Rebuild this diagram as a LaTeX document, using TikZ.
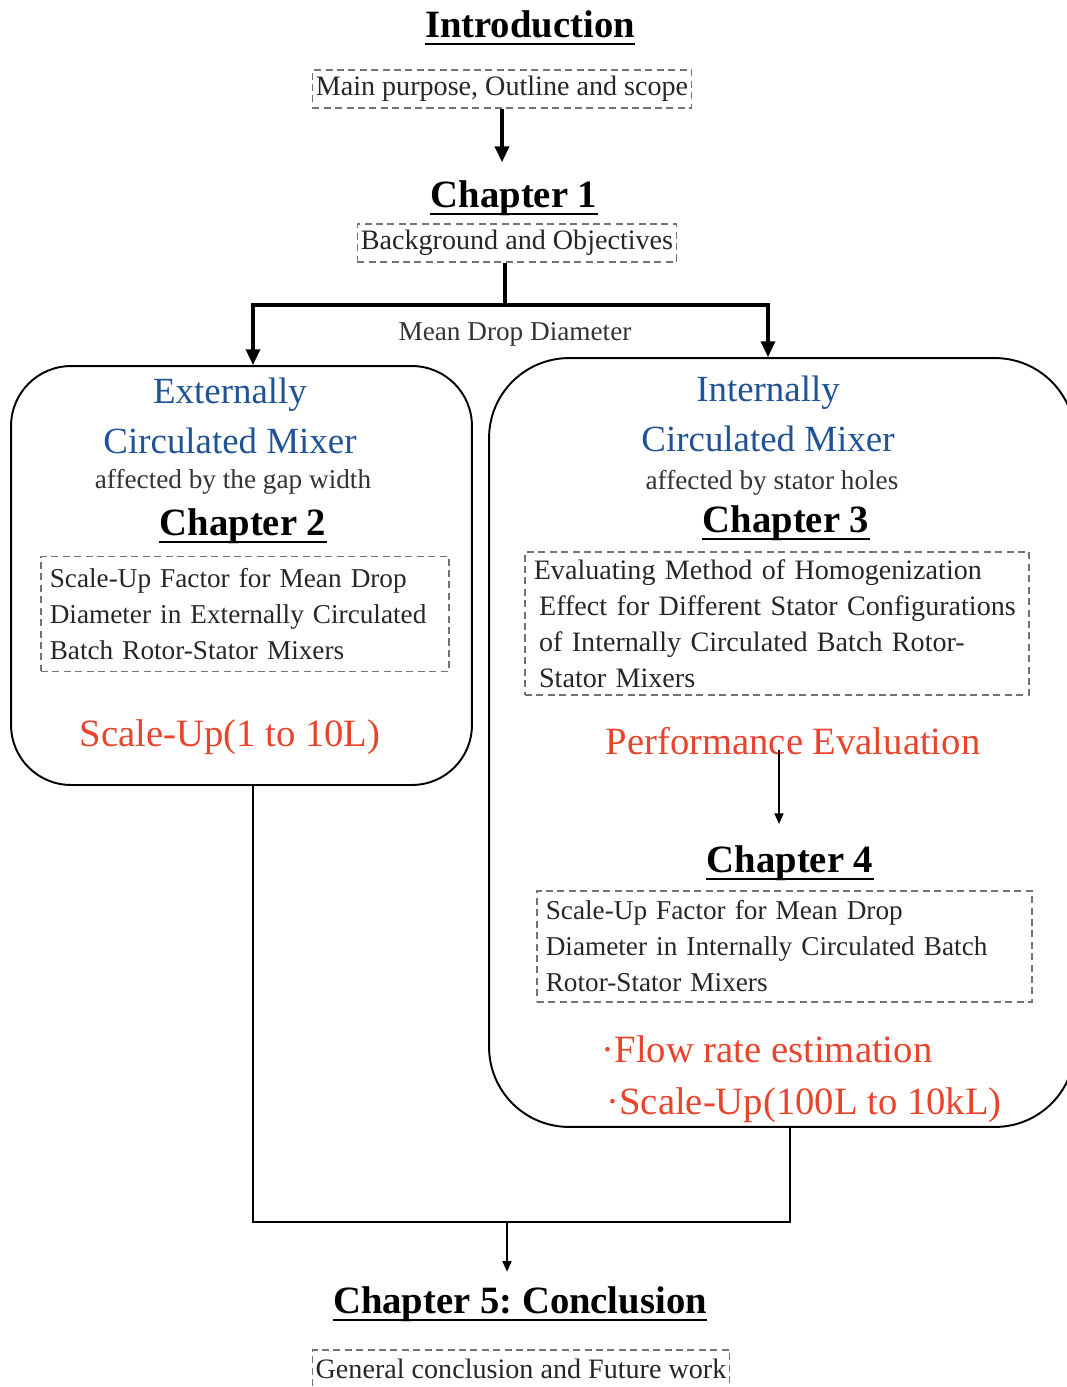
\documentclass[tikz,border=0pt]{standalone}
\usepackage{fontspec}
\setmainfont{Liberation Serif}
\usetikzlibrary{arrows.meta,calc}
\frenchspacing

\definecolor{mixblue}{RGB}{32,82,150}
\definecolor{resred}{RGB}{232,68,44}

\tikzset{
	heading/.style={font=\bfseries\fontsize{22}{26}\selectfont, anchor=base, inner sep=0pt},
	mixer/.style={text=mixblue, font=\fontsize{21}{25}\selectfont, anchor=base, inner sep=0pt},
	note/.style={text=black!80, font=\fontsize{15.5}{18}\selectfont, anchor=base, inner sep=0pt},
	result/.style={text=resred, font=\fontsize{22}{26}\selectfont, anchor=base, inner sep=0pt},
	dashbox/.style={draw=black!55, line width=0.6pt, dash pattern=on 4pt off 2.5pt, text=black!85,
		inner xsep=2pt, inner ysep=0pt, minimum height=0.76cm, font=\fontsize{16}{19}\selectfont},
	textbox/.style={dashbox, align=left, inner xsep=5pt, font=\fontsize{15.5}{20.5}\selectfont},
	mixbox/.style={draw, line width=1.1pt},
	link/.style={line width=1.8pt},
	arr/.style={link, -{Triangle[length=9pt,width=8pt]}},
	thinlink/.style={line width=1pt},
	thinarr/.style={thinlink, -{Triangle[length=6pt,width=5pt]}},
}
\newcommand{\headrule}[1]{\draw[line width=1.6pt] ([yshift=-4pt]#1.base west) -- ([yshift=-4pt]#1.base east);}

\begin{document}
\begin{tikzpicture}[x=0.02cm, y=-0.02cm]
	\useasboundingbox (0,0) rectangle (1066,1387);
	% Introduction
	\node[heading] (intro) at (530,37) {Introduction};
	\headrule{intro}
	\node[dashbox] (purpose) at (502,89) {Main purpose, Outline and scope};
	% Chapter 1
	\node[heading] (ch1) at (514,207) {Chapter 1};
	\headrule{ch1}
	\node[dashbox] (bkg) at (517,243) {Background and Objectives};
	\draw[arr, shorten >=10pt] (purpose.south) -- (purpose.south |- ch1.north);

	% Mixer boxes
	\node[mixbox, rounded corners=1.2cm, minimum width=9.22cm, minimum height=8.38cm] (extbox) at (241.5,575.5) {};
	\node[mixbox, rounded corners=1.6cm, minimum width=11.72cm, minimum height=15.38cm] (intbox) at (782,742.5) {};

	% Split
	\coordinate (split) at (505,305);
	\coordinate (lefttop) at (253,305);
	\coordinate (righttop) at (768,305);
	\draw[link] (bkg.south -| split) -- (split);
	\draw[arr] (split) -- (lefttop) -- (lefttop |- extbox.north);
	\draw[arr] (split) -- (righttop) -- (righttop |- intbox.north);
	\node[note] (mdd) at (515,340) {Mean Drop Diameter};

	% Externally circulated
	\node[mixer] (ext) at (230,403) {Externally};
	\node[mixer] (extmix) at (230,453) {Circulated Mixer};
	\node[note] (extgap) at (233,488) {affected by the gap width};
	\node[heading] (ch2) at (243,535) {Chapter 2};
	\headrule{ch2}
	\node[textbox, text width=7.81cm, minimum height=2.3cm] (ch2box) at (245,614)
		{Scale-Up Factor for Mean Drop\\Diameter in Externally Circulated\\Batch Rotor-Stator Mixers};
	\node[result] (extscale) at (230,746) {Scale-Up(1 to 10L)};

	% Internally circulated
	\node[mixer] (int) at (768,401) {Internally};
	\node[mixer] (intmix) at (768,451) {Circulated Mixer};
	\node[note] (inthole) at (772,489) {affected by stator holes};
	\node[heading] (ch3) at (786,532) {Chapter 3};
	\headrule{ch3}
	\node[textbox, text width=9.73cm, minimum height=2.86cm, font=\fontsize{16}{20.5}\selectfont] (ch3box) at (777,623.5)
		{Evaluating Method of Homogenization\\\hspace*{3pt}Effect for Different Stator Configurations\\\hspace*{3pt}of Internally Circulated Batch Rotor-\\\hspace*{3pt}Stator Mixers};
	\node[result] (perf) at (793,754) {Performance Evaluation};
	\node[heading] (ch4) at (790,872) {Chapter 4};
	\headrule{ch4}
	\draw[thinarr, shorten >=9pt] ([xshift=-0.28cm,yshift=0.1cm]perf.south) -- ([xshift=-0.28cm,yshift=0.1cm]perf.south |- ch4.north);
	\node[textbox, text width=9.55cm, minimum height=2.22cm] (ch4box) at (784.5,946.5)
		{Scale-Up Factor for Mean Drop\\Diameter in Internally Circulated Batch\\Rotor-Stator Mixers};
	\node[result] (flow) at (767,1062) {·Flow rate estimation};
	\node[result] (intscale) at (804,1114) {·Scale-Up(100L to 10kL)};

	% Join
	\coordinate (join) at (507,1222);
	\coordinate (rightbot) at (790,1222);
	\draw[thinlink] (extbox.south -| lefttop) |- (rightbot) -- (rightbot |- intbox.south);

	% Chapter 5
	\node[heading] (ch5) at (520,1313) {Chapter 5: Conclusion};
	\headrule{ch5}
	\draw[thinarr, shorten >=8pt] (join) -- (join |- ch5.north);
	\node[dashbox] (general) at (521,1369) {General conclusion and Future work};
\end{tikzpicture}
\end{document}
